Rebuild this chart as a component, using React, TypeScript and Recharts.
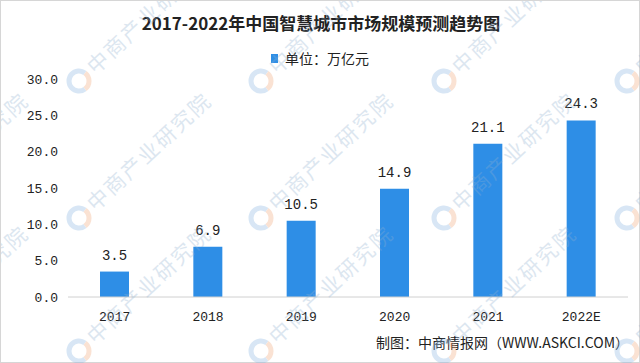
import React from 'react';
import { BarChart, Bar, XAxis, YAxis, Legend, LabelList } from 'recharts';

const years = ['2017', '2018', '2019', '2020', '2021', '2022E'];
const marketSize = [3.5, 6.9, 10.5, 14.9, 21.1, 24.3];
const yTicks = [0, 5, 10, 15, 20, 25, 30];

const data = years.map((year, i) => ({ year, value: marketSize[i] }));

const CJK = "'Noto Sans CJK SC', sans-serif";
const NUM = "'Liberation Mono', 'Noto Sans CJK SC', monospace";
const BLUE = '#2e8ee6';

const UnitLegend = (props: any) => {
  const item = props.payload && props.payload[0];
  if (!item) return null;
  return (
    <div style={{ display: 'flex', justifyContent: 'center', alignItems: 'center' }}>
      <span style={{ display: 'inline-block', width: 7, height: 9, background: BLUE, marginRight: 7 }} />
      <span style={{ fontFamily: CJK, fontSize: 14, color: '#222' }}>{item.value}</span>
    </div>
  );
};

// faint "中商产业研究院" watermark tiles
const wmCols = [-105, 78, 260, 443, 626];
const wmRows = [80, 217, 350];

const Watermarks = () => (
  <svg width={640} height={363} style={{ position: 'absolute', left: 0, top: 0, pointerEvents: 'none' }}>
    {wmRows.map((y) =>
      wmCols.map((x) => (
        <g key={`${x}-${y}`} transform={`translate(${x},${y})`} opacity={0.3}>
          <path d="M 6 -8 A 10 10 0 1 0 6 8" fill="none" stroke="#7fb0e0" strokeWidth={5} />
          <path d="M 6 -8 A 10 10 0 0 1 6 8" fill="none" stroke="#f0a070" strokeWidth={5} />
          <text
            x={16}
            y={7}
            transform="rotate(-43)"
            fontFamily={CJK}
            fontSize={21}
            letterSpacing={2}
            fill="#8fb0d0"
          >
            中商产业研究院
          </text>
        </g>
      ))
    )}
  </svg>
);

export default function App() {
  return (
    <div style={{ position: 'absolute', left: 0, top: 0, width: 640, height: 363, background: '#fff', boxSizing: 'border-box', border: '1px solid #d6d6d6' }}>
      <div style={{ position: 'absolute', left: 0, top: 9, width: 640, textAlign: 'center', fontFamily: CJK, fontWeight: 'bold', fontSize: 17, color: '#222' }}>
        2017-2022年中国智慧城市市场规模预测趋势图
      </div>
      <div style={{ position: 'absolute', left: -1, top: -1 }}>
        <BarChart width={640} height={363} data={data} margin={{ top: 79, right: 12, bottom: 36, left: 0 }}>
          <XAxis
            dataKey="year"
            axisLine={{ stroke: '#d0d0d0' }}
            tickLine={false}
            tickMargin={9}
            tick={{ fill: '#222', fontSize: 13, fontFamily: NUM }}
          />
          <YAxis
            width={68}
            domain={[0, 30]}
            ticks={yTicks}
            axisLine={false}
            tickLine={false}
            tickMargin={4}
            tickFormatter={(v: number) => v.toFixed(1)}
            tick={{ fill: '#222', fontSize: 13, fontFamily: NUM }}
          />
          <Legend
            verticalAlign="top"
            content={<UnitLegend />}
            wrapperStyle={{ position: 'absolute', top: 48, left: 0, width: 640, height: 0, overflow: 'visible' }}
          />
          <Bar dataKey="value" name="单位：万亿元" fill={BLUE} barSize={29} isAnimationActive={false}>
            <LabelList
              dataKey="value"
              position="top"
              offset={12}
              formatter={(v: any) => Number(v).toFixed(1)}
              style={{ fill: '#222', fontSize: 14, fontFamily: NUM }}
            />
          </Bar>
        </BarChart>
      </div>
      <div style={{ position: 'absolute', right: 10, top: 331, fontFamily: CJK, fontSize: 14, color: '#222', whiteSpace: 'nowrap' }}>
        制图：中商情报网（WWW.ASKCI.COM）
      </div>
      <Watermarks />
    </div>
  );
}
